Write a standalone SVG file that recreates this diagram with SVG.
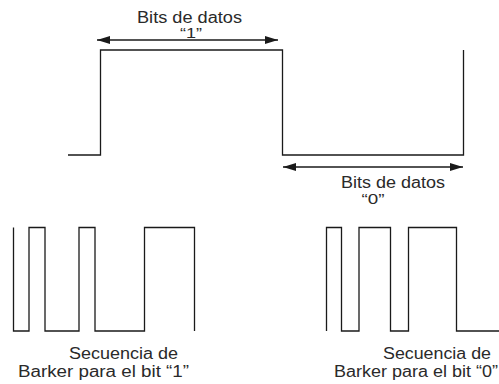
<svg xmlns="http://www.w3.org/2000/svg" width="499" height="384" viewBox="0 0 499 384">
  <style>
    .wave { fill: none; stroke: #1a1a1a; stroke-width: 1.3; }
    .dim { stroke: #1a1a1a; stroke-width: 1.3; marker-start: url(#ah); marker-end: url(#ah); }
    .lbl { font-family: "Liberation Sans", Arial, sans-serif; font-size: 16px; fill: #2a2a2a; }
    .q { font-family: "Liberation Sans", Arial, sans-serif; font-size: 14px; fill: #2a2a2a; }
  </style>
  <defs>
    <marker id="ah" viewBox="0 0 10 10" refX="10" refY="5" markerWidth="13" markerHeight="8" markerUnits="userSpaceOnUse" orient="auto-start-reverse" preserveAspectRatio="none">
      <path d="M0,0 L10,5 L0,10 Z" fill="#1a1a1a"/>
    </marker>
  </defs>
  <rect width="499" height="384" fill="#ffffff"/>

  <!-- data bit waveform: "1" then "0" -->
  <g id="data-wave">
    <polyline class="wave" points="68,155 100.5,155 100.5,50 282.5,50 282.5,155 463.5,155 463.5,50"/>
  </g>

  <!-- bit-duration dimension arrows -->
  <g id="connectors">
    <line class="dim" x1="97" y1="40" x2="278" y2="40"/>
    <line class="dim" x1="283" y1="167" x2="463" y2="167"/>
  </g>

  <g id="label-bit1">
    <text class="lbl" x="137" y="22.5" textLength="105" lengthAdjust="spacingAndGlyphs">Bits de datos</text>
    <text class="q" x="191" y="37.5" text-anchor="middle" textLength="22" lengthAdjust="spacingAndGlyphs">“1”</text>
  </g>
  <g id="label-bit0">
    <text class="lbl" x="341" y="187.5" textLength="104" lengthAdjust="spacingAndGlyphs">Bits de datos</text>
    <text class="q" x="373" y="204" text-anchor="middle" textLength="23" lengthAdjust="spacingAndGlyphs">“0”</text>
  </g>

  <!-- Barker chip sequence for bit 1 -->
  <g id="barker-1">
    <polyline class="wave" points="13.5,227.5 13.5,331 29,331 29,227.5 45,227.5 45,331 79,331 79,227.5 95,227.5 95,331 144.5,331 144.5,227.5 194.5,227.5 194.5,331"/>
    <text class="lbl" x="69" y="359" textLength="109" lengthAdjust="spacingAndGlyphs">Secuencia de</text>
    <text class="lbl" x="18" y="377" textLength="171" lengthAdjust="spacingAndGlyphs">Barker para el bit “1”</text>
  </g>

  <!-- Barker chip sequence for bit 0 -->
  <g id="barker-0">
    <polyline class="wave" points="326.5,331 326.5,227.5 341.5,227.5 341.5,331 359,331 359,227.5 390.5,227.5 390.5,331 408.5,331 408.5,227.5 456.5,227.5 456.5,331 499,331"/>
    <text class="lbl" x="383" y="359" textLength="108" lengthAdjust="spacingAndGlyphs">Secuencia de</text>
    <text class="lbl" x="334" y="377" textLength="164" lengthAdjust="spacingAndGlyphs">Barker para el bit “0”</text>
  </g>
</svg>
